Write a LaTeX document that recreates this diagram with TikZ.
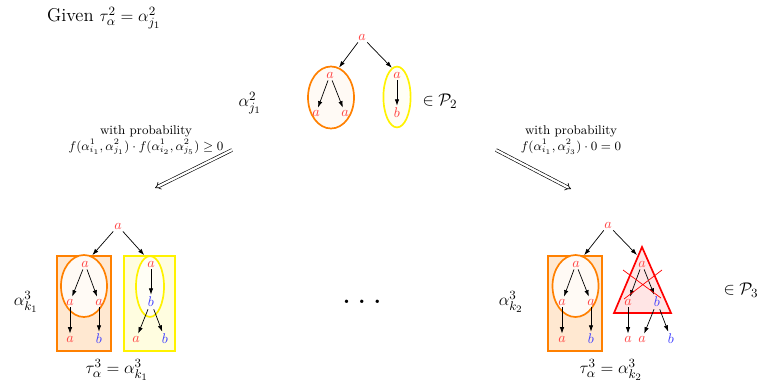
\documentclass[tikz,border=0pt]{standalone}
\usetikzlibrary{arrows.meta,shapes.geometric,calc}
\tikzset{
  lbl/.style={text=red!75,inner sep=1.5pt},
  lblb/.style={text=blue!75,inner sep=1.5pt},
  big/.style={font=\fontsize{13.2}{15}\selectfont,inner sep=1pt},
  arrow/.style={-{Latex[length=1.6mm,width=1.1mm]},draw=black,line width=.5pt},
  imply/.style={double,double distance=1.6pt,-{Implies},line width=.45pt},
  oell/.style={ellipse,draw=orange,line width=1.2pt,fill=orange!4,minimum width=1.15cm,minimum height=1.55cm},
  yell/.style={ellipse,draw=yellow,line width=1.2pt,fill=yellow!4,minimum width=.68cm,minimum height=1.52cm},
  obox/.style={draw=orange,line width=1.2pt,fill=orange!18,minimum width=1.35cm,minimum height=2.375cm},
  ybox/.style={draw=yellow,line width=1.2pt,fill=yellow!12,minimum width=1.275cm,minimum height=2.375cm},
  prob/.style={align=center,font=\small,inner sep=1pt}
}
\begin{document}
\begin{tikzpicture}[x=0.025cm,y=-0.025cm]
  \useasboundingbox (0,0) rectangle (761,383);

  % top tree
  \node[big] (given) at (104,18) {Given $\tau^2_\alpha=\alpha^2_{j_1}$};
  \node[lbl] (r) at (362,37) {$a$};
  \node[oell] (e1) at (331,97.5) {};
  \node[yell] (e2) at (397,97) {};
  \node[lbl] (r1) at (330,75) {$a$};
  \node[lbl] (r11) at (316,113) {$a$};
  \node[lbl] (r12) at (345,113) {$a$};
  \node[lbl] (r2) at (397,75) {$a$};
  \node[lbl] (r21) at (397,113) {$b$};
  \draw[arrow] (r) -- (e1.75); \draw[arrow] (r) -- (e2.100);
  \draw[arrow] (r1) -- (r11); \draw[arrow] (r1) -- (r12); \draw[arrow] (r2) -- (r21);
  \node[big] (p2) at (440,101) {$\in\mathcal{P}_2$};
  \node[big] (aj) at (250,103) {$\alpha^2_{j_1}$};

  % probabilities
  \node[prob] (pl) at (146,140) {with probability\\$f(\alpha^1_{i_1},\alpha^2_{j_1})\cdot f(\alpha^1_{i_2},\alpha^2_{j_5})\geq 0$};
  \node[prob] (pr) at (571,140) {with probability\\$f(\alpha^1_{i_1},\alpha^2_{j_3})\cdot 0=0$};
  \coordinate (pl0) at (232,150); \coordinate (pl1) at (155,188);
  \coordinate (pr0) at (496,150); \coordinate (pr1) at (571,189);
  \draw[imply] (pl0) -- (pl1); \draw[imply] (pr0) -- (pr1);

  % bottom left tree
  \node[lbl] (s) at (118,226) {$a$};
  \node[obox] (b1) at (84,303.5) {};
  \node[ybox] (b2) at (149.5,303.5) {};
  \node[oell] (f1) at (84,286) {};
  \node[yell,minimum width=.7cm] (f2) at (150,286.5) {};
  \node[lbl] (s1) at (85,264) {$a$};
  \node[lbl] (s11) at (70,302) {$a$};
  \node[lbl] (s12) at (99,302) {$a$};
  \node[lbl] (s111) at (70,339) {$a$};
  \node[lblb] (s121) at (99,339) {$b$};
  \node[lbl] (s2) at (151,264) {$a$};
  \node[lblb] (s21) at (151,302) {$b$};
  \node[lbl] (s211) at (136,339) {$a$};
  \node[lblb] (s212) at (165,339) {$b$};
  \draw[arrow] (s) -- ($(b1.north)!.3!(b1.north east)$);
  \draw[arrow] (s) -- ($(b2.north)!.2!(b2.north west)$);
  \draw[arrow] (s1) -- (s11); \draw[arrow] (s1) -- (s12);
  \draw[arrow] (s11) -- (s111); \draw[arrow] (s12) -- (s121);
  \draw[arrow] (s2) -- (s21);
  \draw[arrow] (s21) -- (s211); \draw[arrow] (s21) -- (s212);
  \node[big] (ak1) at (26,302) {$\alpha^3_{k_1}$};
  \node[big] (t1) at (117,370) {$\tau^3_\alpha=\alpha^3_{k_1}$};

  \node[font=\Huge,anchor=base] (dots) at (362,303) {$\dots$};

  % bottom right tree
  \node[lbl] (u) at (608,225) {$a$};
  \node[obox] (c1) at (575,303.5) {};
  \node[oell] (g1) at (575.5,286) {};
  \filldraw[draw=red,line width=1.2pt,fill=red!10,line join=miter] (642,247) -- (671,313) -- (614,313) -- cycle;
  \coordinate (tri) at (637,255);
  \node[lbl] (u1) at (576,264) {$a$};
  \node[lbl] (u11) at (562,302) {$a$};
  \node[lbl] (u12) at (591,302) {$a$};
  \node[lbl] (u111) at (562,339) {$a$};
  \node[lblb] (u121) at (591,339) {$b$};
  \node[lbl] (u2) at (642,264) {$a$};
  \node[lbl] (u21) at (628,302) {$a$};
  \node[lblb] (u22) at (657,302) {$b$};
  \node[lbl] (u211) at (628,339) {$a$};
  \node[lbl] (u221) at (642,339) {$a$};
  \node[lblb] (u222) at (671,339) {$b$};
  \draw[arrow] (u) -- ($(c1.north)!.33!(c1.north east)$);
  \draw[arrow] (u) -- (tri);
  \draw[arrow] (u1) -- (u11); \draw[arrow] (u1) -- (u12);
  \draw[arrow] (u11) -- (u111); \draw[arrow] (u12) -- (u121);
  \draw[arrow] (u2) -- (u21); \draw[arrow] (u2) -- (u22);
  \draw[arrow] (u21) -- (u211);
  \draw[arrow] (u22) -- (u221); \draw[arrow] (u22) -- (u222);
  \draw[red,line width=.5pt] (623,270) -- (661,298) (662,270) -- (624,299);
  \node[big] (ak2) at (511,302) {$\alpha^3_{k_2}$};
  \node[big] (t2) at (611,370) {$\tau^3_\alpha=\alpha^3_{k_2}$};
  \node[big] (p3) at (741,290) {$\in\mathcal{P}_3$};
\end{tikzpicture}
\end{document}
